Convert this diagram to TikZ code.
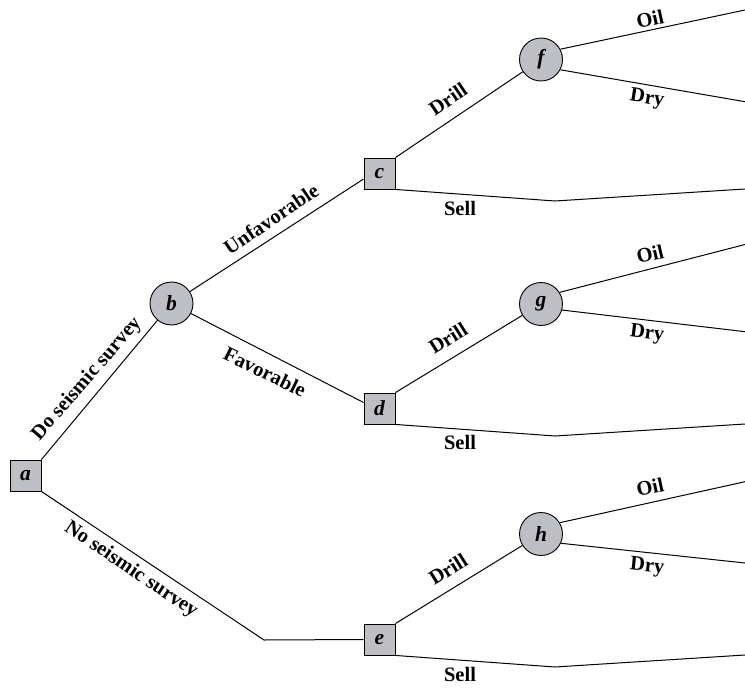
\documentclass[tikz,border=0pt]{standalone}
\usepackage{fontspec}
\setmainfont{Liberation Serif}
\definecolor{nodegray}{RGB}{190,191,197}
\begin{document}
\begin{tikzpicture}[x=1pt,y=-1pt,
  dec/.style={draw=black, fill=nodegray, minimum size=31pt, inner sep=0pt, line width=0.9pt,
    font=\fontsize{21.5}{23}\selectfont\bfseries\itshape},
  chance/.style={circle, draw=black, fill=nodegray, minimum size=43pt, inner sep=0pt, line width=0.9pt,
    font=\fontsize{21.5}{23}\selectfont\bfseries\itshape},
  lbl/.style={font=\fontsize{20.5}{22}\selectfont\bfseries, inner sep=0pt},
  edge/.style={line width=1pt, line join=round}]
\useasboundingbox (0,0) rectangle (745,688);

% nodes
\node[dec] (a) at (25.5,475.5) {a};
\node[chance] (b) at (171.5,303.5) {b};
\node[dec] (c) at (379.5,173.5) {c};
\node[dec] (d) at (379.5,408.5) {d};
\node[dec] (e) at (379.5,639.5) {e};
\node[chance] (f) at (541,59.5) {f};
\node[chance] (g) at (541,304) {g};
\node[chance] (h) at (541,534) {h};

% free ends
\coordinate (ae) at (264,640);
\coordinate (fo) at (745,10);
\coordinate (fd) at (745,101.7);
\coordinate (go) at (745,244.5);
\coordinate (gd) at (745,331.7);
\coordinate (ho) at (745,481.7);
\coordinate (hd) at (745,563);
\coordinate (cs1) at (555,201);
\coordinate (cs2) at (745,189);
\coordinate (ds1) at (555,436);
\coordinate (ds2) at (745,424);
\coordinate (es1) at (555,667);
\coordinate (es2) at (745,655);

% connectors
\draw[edge] (a.north east) -- (b);
\draw[edge] (a.south east) -- (ae) -- (e.west);
\draw[edge] (b) -- ([yshift=-5.5pt]c.west);
\draw[edge] (b) -- ([yshift=6pt]d.west);
\draw[edge] (c.north east) -- (f);
\draw[edge] (d.north east) -- (g);
\draw[edge] (e.north east) -- (h);
\draw[edge] (c.south east) -- (cs1) -- (cs2);
\draw[edge] (d.south east) -- (ds1) -- (ds2);
\draw[edge] (e.south east) -- (es1) -- (es2);
\draw[edge] (f.28) -- (fo);
\draw[edge] (f.-28) -- (fd);
\draw[edge] (g.32) -- (go);
\draw[edge] (g.-16) -- (gd);
\draw[edge] (h.31) -- (ho);
\draw[edge] (h.-25) -- (hd);

% labels
\node[lbl, rotate=49] (l1) at (87,379) {Do seismic survey};
\node[lbl, rotate=-34] (l2) at (131,570) {No seismic survey};
\node[lbl, rotate=34] (l3) at (271,219) {Unfavorable};
\node[lbl, rotate=-26] (l4) at (265,372) {Favorable};
\node[lbl, rotate=34] (l5) at (448,99) {Drill};
\node[lbl, rotate=32] (l6) at (448,338) {Drill};
\node[lbl, rotate=32] (l7) at (448,569) {Drill};
\node[lbl] (l8) at (460,208) {Sell};
\node[lbl] (l9) at (460,442) {Sell};
\node[lbl] (l10) at (460,674) {Sell};
\node[lbl, rotate=12] (l11) at (650,19) {Oil};
\node[lbl, rotate=-9] (l12) at (647,99) {Dry};
\node[lbl, rotate=13] (l13) at (650,254) {Oil};
\node[lbl, rotate=-7] (l14) at (647,334) {Dry};
\node[lbl, rotate=12] (l15) at (650,487) {Oil};
\node[lbl, rotate=-6] (l16) at (647,567) {Dry};
\end{tikzpicture}
\end{document}
